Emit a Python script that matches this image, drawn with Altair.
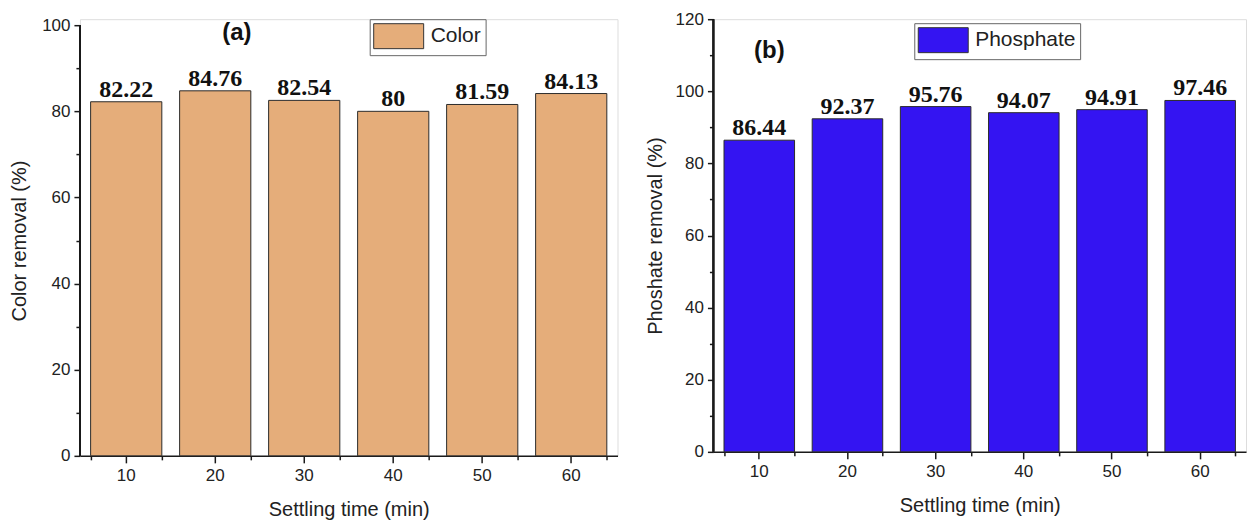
import altair as alt
import pandas as pd

times = [10, 20, 30, 40, 50, 60]
color_removal = [82.22, 84.76, 82.54, 80, 81.59, 84.13]
color_labels = ["82.22", "84.76", "82.54", "80", "81.59", "84.13"]
phosphate_removal = [86.44, 92.37, 95.76, 94.07, 94.91, 97.46]
phosphate_labels = ["86.44", "92.37", "95.76", "94.07", "94.91", "97.46"]

left_major = [0, 20, 40, 60, 80, 100]
left_minor = [10, 30, 50, 70, 90]
right_major = [0, 20, 40, 60, 80, 100, 120]
right_minor = [10, 30, 50, 70, 90, 110]

SANS = "Liberation Sans"
SERIF = "Liberation Serif"
INK = "#1a1a1a"


def panel(values, labels, series, fill, ytitle, ymax, major, minor, width, height,
          yrange, legend_xy, tag, tag_xy, ytitle_pad):
    df = pd.DataFrame({"time": times, "value": values, "label": labels,
                       "series": [series] * len(times)})
    yscale = alt.Scale(domain=[0, ymax], range=yrange, nice=False, zero=True)
    xscale = alt.Scale(paddingInner=0.2, paddingOuter=0.12)
    base = alt.Chart(df)

    bars = base.mark_bar(stroke="#2b2b2b", strokeWidth=1).encode(
        x=alt.X("time:O", scale=xscale, axis=alt.Axis(
            title="Settling time (min)", orient="bottom", labelAngle=0,
            labelFont=SANS, labelFontSize=17, labelColor="#222",
            titleFont=SANS, titleFontSize=20, titleFontWeight="normal", titleColor="#222",
            tickSize=7, tickWidth=1.5, tickColor=INK, labelPadding=5, titlePadding=16,
            domainColor=INK, domainWidth=1.5, grid=False)),
        y=alt.Y("value:Q", scale=yscale, axis=alt.Axis(
            values=major, title=ytitle, orient="left",
            labelFont=SANS, labelFontSize=17, labelColor="#222",
            titleFont=SANS, titleFontSize=20, titleFontWeight="normal", titleColor="#222",
            tickSize=6, tickWidth=1.5, tickColor=INK, labelPadding=4, titlePadding=ytitle_pad,
            domain=False, grid=False)),
        color=alt.Color("series:N", scale=alt.Scale(domain=[series], range=[fill]),
                        legend=alt.Legend(
                            title=None, orient="none", legendX=legend_xy[0], legendY=legend_xy[1],
                            strokeColor="#666", fillColor="white", padding=4,
                            symbolType="M-2,-1H2V1H-2Z", symbolSize=625, symbolOffset=12,
                            symbolStrokeColor="#333", symbolStrokeWidth=1, symbolOpacity=1,
                            labelFont=SANS, labelFontSize=21, labelColor="#222", labelOffset=19)),
    )

    minor_ticks = base.mark_bar(opacity=0).encode(
        x=alt.X("time:O", scale=xscale, axis=alt.Axis(
            title=None, labels=False, orient="bottom", tickBand="extent",
            tickSize=4, tickWidth=1.5, tickColor=INK, domain=False, grid=False)),
        y=alt.Y("value:Q", scale=yscale, axis=alt.Axis(
            title=None, labels=False, orient="left", values=minor,
            tickSize=4, tickWidth=1.5, tickColor=INK, domain=False, grid=False)),
    )

    axis_line = base.mark_rule(color=INK, strokeWidth=1.5).encode(
        x=alt.value(0),
        y=alt.YDatum(0, type="quantitative", scale=yscale, axis=None),
        y2=alt.Y2Datum(ymax),
    )

    text = base.mark_text(font=SERIF, fontSize=24, fontWeight="bold", color="#111",
                          baseline="alphabetic", dy=-5).encode(
        x=alt.X("time:O", scale=xscale, axis=None),
        y=alt.Y("value:Q", scale=yscale, axis=None),
        text="label:N",
    )

    tag_df = pd.DataFrame({"t": [tag]})
    tag_text = alt.Chart(tag_df).mark_text(font=SANS, fontSize=24, fontWeight="bold",
                                           color="#111").encode(
        x=alt.value(tag_xy[0]), y=alt.value(tag_xy[1]), text="t:N")

    return alt.layer(bars, minor_ticks, axis_line, text, tag_text).resolve_axis(
        x="independent", y="independent").properties(width=width, height=height)


left = panel(color_removal, color_labels, "Color", "#E5AD7A", "Color removal (%)", 100,
             left_major, left_minor, 538, 437, [437, 6], (290, 0), "(a)", (157, 14), 12)
right = panel(phosphate_removal, phosphate_labels, "Phosphate", "#3414F2",
              "Phoshate removal (%)", 120, right_major, right_minor, 533, 433, [433, 0],
              (201, 4), "(b)", (56, 32), 10)

chart = alt.hconcat(left, right, spacing=26).resolve_scale(
    color="independent").resolve_legend(color="independent").properties(
    padding={"left": 9, "top": 9, "right": 0, "bottom": 0}
).configure_view(stroke=None).configure(background="white")

chart.save("out.html", embed_options={"renderer": "svg", "actions": False})
